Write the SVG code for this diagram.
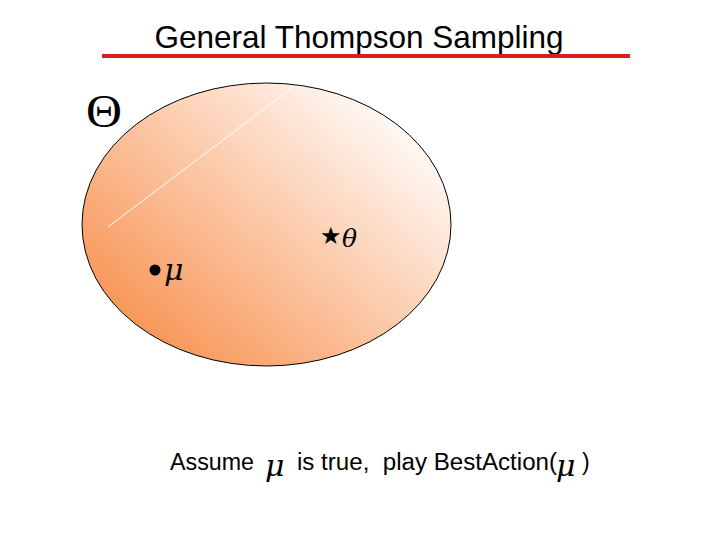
<svg xmlns="http://www.w3.org/2000/svg" width="720" height="540" viewBox="0 0 720 540">
<style>
.sans{font-family:"Liberation Sans",Arial,sans-serif;fill:#000}
.math{font-family:"DejaVu Serif","Liberation Serif",serif;font-style:italic;fill:#000}
</style>
<defs>
<linearGradient id="g" x1="0.1" y1="0.9" x2="0.95" y2="0.15">
<stop offset="0" stop-color="#F8914F"/>
<stop offset="1" stop-color="#FFFFFF"/>
</linearGradient>
</defs>
<rect width="720" height="540" fill="#fff"/>
<g id="title">
<text class="sans" x="359" y="48" font-size="31.5" text-anchor="middle">General Thompson Sampling</text>
<line x1="102" y1="56" x2="630" y2="56" stroke="#D42020" stroke-width="4"/>
</g>
<g id="space">
<ellipse cx="266.5" cy="224.5" rx="184.5" ry="141.5" fill="url(#g)" stroke="#000" stroke-width="1"/>
<line x1="108" y1="227" x2="293" y2="87" stroke="#fff" stroke-width="1"/>
<text x="86" y="127" font-family="'Liberation Serif','DejaVu Serif',serif" font-size="46" textLength="36" lengthAdjust="spacingAndGlyphs">Θ</text>
</g>
<g id="mu">
<circle cx="155" cy="270" r="5.5" fill="#000"/>
<text class="math" x="164" y="280" font-size="30">μ</text>
</g>
<g id="theta">
<text x="320" y="244" font-family="'DejaVu Sans',sans-serif" font-size="24">★</text>
<text class="math" x="342" y="247" font-size="25">θ</text>
</g>
<g id="caption">
<text class="sans" x="170" y="470" font-size="23" textLength="84" lengthAdjust="spacingAndGlyphs">Assume</text>
<text class="math" x="265" y="476" font-size="30">μ</text>
<text class="sans" x="297" y="470" font-size="23" xml:space="preserve" textLength="260" lengthAdjust="spacingAndGlyphs">is true,  play BestAction(</text>
<text class="math" x="556" y="476" font-size="30">μ</text>
<text class="sans" x="582" y="470" font-size="23">)</text>
</g>
</svg>
